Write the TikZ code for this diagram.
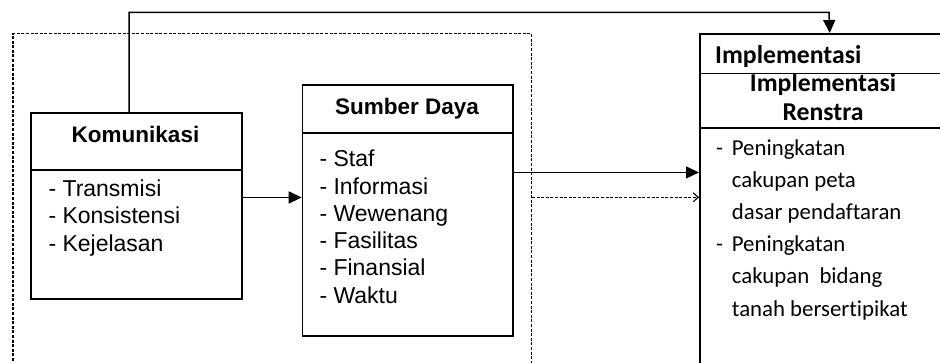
\documentclass[tikz,border=0pt]{standalone}
\usepackage{fontspec}
\setmainfont{Liberation Sans}
\newfontfamily\carlito[Ligatures=NoCommon]{Carlito}
\usetikzlibrary{arrows.meta}
\tikzset{
  box/.style={draw, line width=1.5pt, inner sep=0pt, anchor=north west},
  grpbox/.style={draw, line width=1.2pt, dash pattern=on 3pt off 1.6pt, inner sep=0pt, anchor=north west},
  ttl/.style={font=\bfseries\fontsize{22.5}{27}\selectfont, inner sep=0pt, anchor=base},
  itm/.style={font=\fontsize{23}{27}\selectfont, inner sep=0pt, anchor=base west},
  rttl/.style={font=\carlito\bfseries\fontsize{25.7}{30}\selectfont, inner sep=0pt},
  ritm/.style={font=\carlito\fontsize{22.8}{30}\selectfont, inner sep=0pt, anchor=base west},
  conn/.style={line width=1.5pt},
  arr/.style={conn, -{Triangle[length=13pt,width=12pt]}},
  darr/.style={line width=1.2pt, dash pattern=on 3pt off 1.6pt, -{Straight Barb[length=5pt,width=9pt,line width=1.1pt]}}
}
\begin{document}
\begin{tikzpicture}[x=1pt,y=-1pt]
\useasboundingbox (0,0) rectangle (940,362);
\clip (0,0) rectangle (940,362);
% group (dashed)
\node[grpbox, minimum width=518.4pt, minimum height=350pt] (grp) at (12.3,33) {};
% Komunikasi
\node[box, minimum width=211pt, minimum height=57pt] (komt) at (30,112) {};
\node[box, minimum width=211pt, minimum height=129pt] (komb) at (30,169) {};
\node[ttl] (komtx) at (135.5,142.7) {Komunikasi};
\node[itm] (k1) at (48.3,196.7) {- Transmisi};
\node[itm] (k2) at (48.3,223.9) {- Konsistensi};
\node[itm] (k3) at (48.3,251.1) {- Kejelasan};
% Sumber Daya
\node[box, minimum width=210.6pt, minimum height=48pt] (sumt) at (301.7,84.3) {};
\node[box, minimum width=210.6pt, minimum height=202.7pt] (sumb) at (301.7,132.3) {};
\node[ttl] (sumtx) at (407,114.3) {Sumber Daya};
\node[itm] (s1) at (319.3,166.7) {- Staf};
\node[itm] (s2) at (319.3,194.0) {- Informasi};
\node[itm] (s3) at (319.3,221.3) {- Wewenang};
\node[itm] (s4) at (319.3,248.6) {- Fasilitas};
\node[itm] (s5) at (319.3,275.9) {- Finansial};
\node[itm] (s6) at (319.3,303.2) {- Waktu};
% Implementasi
\node[box, minimum width=260pt, minimum height=39.7pt] (impt) at (699,33) {};
\node[box, minimum width=260pt, minimum height=54.6pt] (imps) at (699,72.7) {};
\node[box, minimum width=260pt, minimum height=260pt] (impb) at (699,127.3) {};
\node[rttl, anchor=base west] (imptx) at (715,63.3) {Implementasi};
\node[rttl, anchor=base] (impsx1) at (823,91) {Implementasi};
\node[rttl, anchor=base] (impsx2) at (823,120.7) {Renstra};
\node[ritm] (d1) at (716,155) {-};
\node[ritm] (r1) at (731.7,155) {Peningkatan};
\node[ritm] (r2) at (731.7,187.2) {cakupan peta};
\node[ritm] (r3) at (731.7,219.4) {dasar pendaftaran};
\node[ritm] (d2) at (716,251.6) {-};
\node[ritm] (r4) at (731.7,251.6) {Peningkatan};
\node[ritm] (r5) at (731.7,283.8) {cakupan\ \ bidang};
\node[ritm] (r6) at (731.7,316) {tanah bersertipikat};
% connectors
\path ([xshift=-7.2pt]komt.north) coordinate (c0);
\coordinate (tp) at (829,12.3);
\draw[arr] (c0) |- (tp) -- (impt.north);
\path ([yshift=36.8pt]komb.east) coordinate (c1);
\draw[arr] (c1) -- (c1 -| sumb.west);
\path ([yshift=61.95pt]sumb.east) coordinate (c2);
\draw[arr] (c2) -- (c2 -| impb.west);
\path ([yshift=11.3pt]grp.east) coordinate (c3);
\draw[darr] (c3) -- (c3 -| impb.west);
\end{tikzpicture}
\end{document}
